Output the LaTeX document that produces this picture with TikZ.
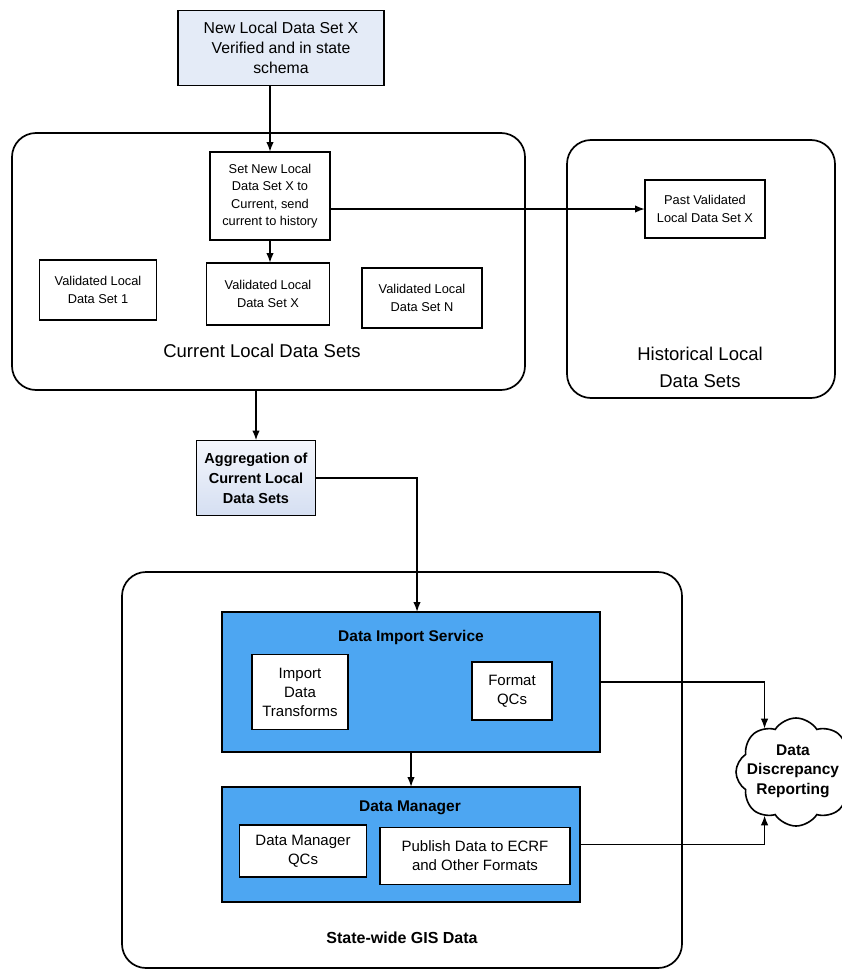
\documentclass[tikz,border=0pt]{standalone}
\usepackage{fontspec}
\setmainfont{Liberation Sans}
\usetikzlibrary{shapes.symbols,arrows.meta,calc}

\definecolor{boxblue}{HTML}{4DA6F2}
\definecolor{topfill}{HTML}{E4EBF7}
\definecolor{aggtop}{HTML}{F4F6FC}
\definecolor{aggbot}{HTML}{D5DFF2}

\newcommand{\fs}[2]{\fontsize{#1}{#2}\selectfont}

\tikzset{
  every node/.style={inner sep=0pt, outer sep=0pt},
  group/.style={draw, line width=1.7pt, rounded corners=24pt, fill=white},
  smallbox/.style={draw, line width=1.6pt, fill=white, align=center, font=\fs{12.8}{17.5}},
  bluebox/.style={draw, line width=1.6pt, fill=boxblue},
  wbox/.style={draw, line width=1.6pt, fill=white, align=center, font=\fs{15}{19}},
  biglabel/.style={align=center, font=\fs{18.5}{27}},
  title/.style={font=\bfseries\fs{15.5}{19}},
  link/.style={line width=1.6pt, -{Latex[length=10pt,width=7.5pt]}},
}

\begin{document}
\begin{tikzpicture}[x=1pt,y=-1pt]
\useasboundingbox (0,0) rectangle (841,977);

% incoming data set
\node[draw, line width=1.6pt, fill=topfill, minimum width=206pt, minimum height=75pt,
      align=center, font=\fs{15.8}{20}] (new) at (281,48)
  {New Local Data Set X\\Verified and in state\\schema};

% current local data sets
\node[group, minimum width=513pt, minimum height=257pt] (cur) at (268.5,261.5) {};
\node[smallbox, minimum width=120pt, minimum height=88pt] (setx) at (270,196)
  {Set New Local\\Data Set X to\\Current, send\\current to history};
\node[smallbox, minimum width=117pt, minimum height=60pt] (v1) at (98,290)
  {Validated Local\\Data Set 1};
\node[smallbox, minimum width=123pt, minimum height=62pt] (vx) at (268,294)
  {Validated Local\\Data Set X};
\node[smallbox, minimum width=120pt, minimum height=60pt] (vn) at (422,298)
  {Validated Local\\Data Set N};
\node[biglabel] (curlabel) at (262,351) {Current Local Data Sets};

% historical local data sets
\node[group, minimum width=268pt, minimum height=258pt] (hist) at (701,269) {};
\node[smallbox, minimum width=120pt, minimum height=58pt] (past) at (705,209)
  {Past Validated\\Local Data Set X};
\node[biglabel] (histlabel) at (700,367) {Historical Local\\Data Sets};

% aggregation
\node[draw, line width=1.6pt, top color=aggtop, bottom color=aggbot,
      minimum width=119pt, minimum height=75pt, align=center,
      font=\bfseries\fs{14.5}{20}] (agg) at (256,478)
  {Aggregation of\\Current Local\\Data Sets};

% state-wide GIS data
\node[group, minimum width=560pt, minimum height=396pt] (state) at (402,770) {};
\node[bluebox, minimum width=378pt, minimum height=140pt] (dis) at (411,682) {};
\node[title] (distitle) at (411,637) {Data Import Service};
\node[wbox, minimum width=96pt, minimum height=75pt] (idt) at (300,692)
  {Import\\Data\\Transforms};
\node[wbox, minimum width=80pt, minimum height=58pt] (fqc) at (512,691)
  {Format\\QCs};
\node[bluebox, minimum width=358pt, minimum height=115pt] (dm) at (401,844.5) {};
\node[title] (dmtitle) at (410,808) {Data Manager};
\node[wbox, minimum width=127pt, minimum height=52pt] (dmq) at (303,851)
  {Data Manager\\QCs};
\node[wbox, minimum width=190pt, minimum height=57pt] (pub) at (475,856)
  {Publish Data to ECRF\\and Other Formats};
\node[font=\bfseries\fs{16}{20}] (statelabel) at (402,938) {State-wide GIS Data};

% discrepancy reporting: cloud outline with its text laid on top
\node[cloud, draw, line width=1.6pt, fill=white, cloud puffs=8, cloud puff arc=115,
      minimum width=120pt, minimum height=108pt] (cloud) at (796,772) {};
\node[align=center, font=\bfseries\fs{15.5}{19.5}] (cloudtext) at (793,771)
  {Data\\Discrepancy\\Reporting};

% connectors
\coordinate (disin) at ($(dis.north)+(6,0)$);
\draw[link] (setx.north |- new.south) -- (setx.north);
\draw[link] (setx.east |- past.west) -- (past.west);
\draw[link] (setx.south) -- (vx.north -| setx.south);
\draw[link] (agg.north |- cur.south) -- (agg.north);
\draw[link] (agg.east) -| (disin);
\draw[link] (dis.south) -- (dis.south |- dm.north);
\draw[link] (dis.east) -| (cloud.126);
\draw[link] (dm.east) -| (cloud.234);
\end{tikzpicture}
\end{document}
